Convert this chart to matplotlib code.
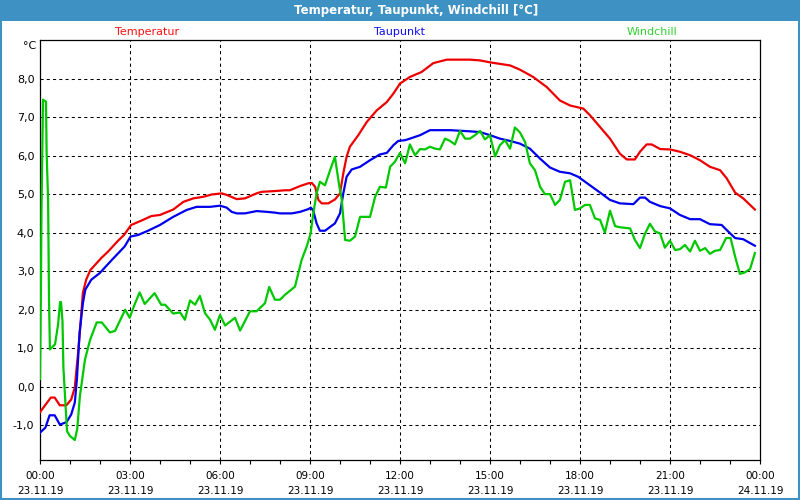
import matplotlib
matplotlib.use('Agg')
import matplotlib.pyplot as plt
from matplotlib.patches import Rectangle
from matplotlib.ticker import MultipleLocator

# hours since 23.11.19 00:00
temp_t = [0.0, 0.36, 0.49, 0.66, 0.88, 1.04, 1.16, 1.27, 1.36, 1.43, 1.54, 1.68, 2.04, 2.27,
          2.6, 2.8, 3.04, 3.43, 3.71, 4.0, 4.44, 4.78, 5.11, 5.44, 5.72, 6.06, 6.22, 6.56,
          6.83, 7.22, 7.39, 7.83, 8.17, 8.33, 8.67, 8.94, 9.06, 9.17, 9.28, 9.39, 9.61, 9.83,
          10.0, 10.11, 10.22, 10.33, 10.61, 10.89, 11.22, 11.56, 11.78, 12.0, 12.33, 12.72,
          13.11, 13.56, 14.33, 14.67, 15.0, 15.33, 15.67, 16.0, 16.44, 16.89, 17.33, 17.67,
          18.11, 18.33, 18.67, 19.0, 19.33, 19.56, 19.83, 20.0, 20.22, 20.39, 20.67, 21.0,
          21.33, 21.67, 22.0, 22.33, 22.67, 22.89, 23.17, 23.44, 23.83]
temp_v = [-0.66, -0.28, -0.28, -0.48, -0.48, -0.33, -0.02, 0.89, 1.74, 2.44, 2.78, 3.03, 3.34,
          3.51, 3.79, 3.94, 4.2, 4.33, 4.43, 4.46, 4.6, 4.8, 4.89, 4.93, 4.99, 5.02, 4.98, 4.87,
          4.89, 5.02, 5.06, 5.08, 5.1, 5.1, 5.21, 5.28, 5.29, 5.19, 4.85, 4.76, 4.76, 4.86,
          5.02, 5.54, 5.97, 6.23, 6.53, 6.87, 7.17, 7.39, 7.61, 7.87, 8.04, 8.17, 8.4, 8.49,
          8.49, 8.47, 8.42, 8.38, 8.34, 8.23, 8.04, 7.78, 7.43, 7.3, 7.22, 7.05, 6.74, 6.44,
          6.05, 5.9, 5.9, 6.1, 6.29, 6.29, 6.17, 6.16, 6.1, 6.01, 5.88, 5.71, 5.62, 5.41, 5.04,
          4.89, 4.6]

dew_t = [0.0, 0.18, 0.32, 0.49, 0.66, 0.88, 1.04, 1.16, 1.23, 1.32, 1.43, 1.51, 1.71, 1.99,
         2.38, 2.82, 3.02, 3.27, 3.6, 4.0, 4.44, 4.89, 5.22, 5.67, 6.0, 6.22, 6.39, 6.56, 6.83,
         7.22, 7.56, 7.83, 8.0, 8.39, 8.67, 8.94, 9.03, 9.11, 9.22, 9.33, 9.5, 9.83, 10.0,
         10.11, 10.22, 10.39, 10.67, 11.0, 11.33, 11.56, 11.78, 11.94, 12.17, 12.33, 12.67,
         13.0, 13.33, 13.67, 14.33, 14.67, 15.0, 15.33, 15.67, 16.0, 16.33, 16.67, 17.0,
         17.33, 17.67, 17.94, 18.33, 18.67, 19.0, 19.33, 19.78, 20.0, 20.17, 20.33, 20.67,
         21.0, 21.33, 21.67, 22.0, 22.33, 22.72, 22.94, 23.17, 23.44, 23.83]
dew_v = [-1.19, -1.06, -0.74, -0.74, -0.98, -0.92, -0.72, -0.41, 0.19, 1.4, 2.17, 2.52, 2.78,
         2.95, 3.28, 3.64, 3.9, 3.94, 4.05, 4.2, 4.41, 4.59, 4.67, 4.67, 4.7, 4.65, 4.54, 4.5,
         4.5, 4.56, 4.54, 4.52, 4.5, 4.5, 4.54, 4.61, 4.65, 4.57, 4.24, 4.05, 4.05, 4.24, 4.5,
         5.02, 5.45, 5.64, 5.71, 5.88, 6.03, 6.07, 6.27, 6.38, 6.4, 6.44, 6.53, 6.66, 6.66,
         6.66, 6.63, 6.61, 6.53, 6.44, 6.38, 6.31, 6.18, 5.92, 5.69, 5.58, 5.54, 5.45, 5.23,
         5.04, 4.85, 4.76, 4.74, 4.91, 4.91, 4.8, 4.69, 4.63, 4.46, 4.35, 4.35, 4.22, 4.2,
         4.03, 3.86, 3.83, 3.66]

chill_t = [0.0, 0.03, 0.05, 0.1, 0.2, 0.22, 0.27, 0.3, 0.33, 0.5, 0.6, 0.67, 0.7, 0.75, 0.78,
           0.9, 1.0, 1.16, 1.24, 1.33, 1.5, 1.67, 1.89, 2.06, 2.33, 2.5, 2.84, 2.99, 3.13,
           3.32, 3.49, 3.82, 4.04, 4.17, 4.44, 4.67, 4.83, 5.0, 5.17, 5.33, 5.5, 5.67, 5.83,
           6.0, 6.17, 6.5, 6.67, 7.0, 7.22, 7.5, 7.64, 7.83, 8.0, 8.17, 8.5, 8.72, 8.89, 9.02,
           9.11, 9.22, 9.33, 9.5, 9.67, 9.83, 9.98, 10.06, 10.17, 10.33, 10.5, 10.67, 11.0,
           11.17, 11.33, 11.53, 11.67, 11.83, 12.0, 12.17, 12.33, 12.5, 12.67, 12.83, 13.0,
           13.17, 13.33, 13.5, 13.67, 13.83, 14.0, 14.17, 14.33, 14.5, 14.67, 14.83, 15.0,
           15.17, 15.33, 15.5, 15.67, 15.83, 16.0, 16.17, 16.33, 16.5, 16.67, 16.83, 17.0,
           17.17, 17.33, 17.5, 17.67, 17.83, 18.0, 18.17, 18.33, 18.5, 18.67, 18.83, 19.0,
           19.17, 19.33, 19.67, 19.83, 20.0, 20.17, 20.33, 20.5, 20.67, 20.83, 21.0, 21.17,
           21.33, 21.5, 21.67, 21.83, 22.0, 22.17, 22.33, 22.5, 22.67, 22.87, 23.02, 23.17,
           23.33, 23.5, 23.67, 23.83]
chill_v = [0.2, 2.5, 4.6, 7.45, 7.4, 6.1, 4.85, 2.3, 0.97, 1.1, 1.6, 2.2, 2.2, 1.7, 0.5, -1.15,
           -1.28, -1.38, -1.1, -0.24, 0.71, 1.22, 1.67, 1.67, 1.41, 1.45, 2.0, 1.79, 2.09,
           2.45, 2.15, 2.43, 2.13, 2.13, 1.9, 1.93, 1.74, 2.24, 2.13, 2.36, 1.91, 1.74, 1.48,
           1.87, 1.59, 1.79, 1.46, 1.96, 1.96, 2.17, 2.59, 2.26, 2.26, 2.39, 2.6, 3.29, 3.64,
           3.98, 4.5, 5.02, 5.32, 5.23, 5.62, 5.97, 5.19, 4.85, 3.81, 3.79, 3.9, 4.41, 4.41,
           4.93, 5.19, 5.17, 5.71, 5.84, 6.07, 5.8, 6.29, 6.01, 6.17, 6.16, 6.23, 6.18, 6.16,
           6.44, 6.38, 6.29, 6.64, 6.44, 6.44, 6.53, 6.64, 6.42, 6.53, 5.98, 6.27, 6.4, 6.18,
           6.73, 6.6, 6.35, 5.8, 5.62, 5.19, 5.0, 5.0, 4.72, 4.85, 5.32, 5.36, 4.59, 4.63,
           4.72, 4.72, 4.37, 4.33, 4.0, 4.57, 4.17, 4.14, 4.11, 3.81, 3.6, 3.98, 4.23, 4.03,
           3.98, 3.61, 3.79, 3.55, 3.57, 3.68, 3.51, 3.79, 3.53, 3.6, 3.45, 3.53, 3.55, 3.86,
           3.86, 3.38, 2.93, 2.97, 3.06, 3.47]

x_ticks = [0, 3, 6, 9, 12, 15, 18, 21, 24]
x_labels = ['00:00\n23.11.19', '03:00\n23.11.19', '06:00\n23.11.19', '09:00\n23.11.19',
            '12:00\n23.11.19', '15:00\n23.11.19', '18:00\n23.11.19', '21:00\n23.11.19',
            '00:00\n24.11.19']
y_ticks = [-1, 0, 1, 2, 3, 4, 5, 6, 7, 8]

bar_blue = '#3d91c3'
plt.rcParams['font.family'] = ['DejaVu Sans']

fig = plt.figure(figsize=(8, 5), dpi=100, facecolor='white')
ax = fig.add_axes([40 / 800, 40 / 500, 720 / 800, 420 / 500])

ax.plot(temp_t, temp_v, color='#ee0000', lw=1.6, zorder=3)
ax.plot(dew_t, dew_v, color='#0000ee', lw=1.6, zorder=3)
ax.plot(chill_t, chill_v, color='#00c800', lw=1.6, zorder=4)

ax.set_xlim(0, 24)
ax.set_ylim(-1.9, 9.0)
ax.set_xticks(x_ticks)
ax.set_xticklabels(x_labels, fontsize=7.5, linespacing=1.6)
ax.xaxis.set_minor_locator(MultipleLocator(1))
ax.tick_params(axis='x', which='both', direction='out', length=3, width=0.8, pad=5)
ax.set_yticks(y_ticks)
ax.set_yticklabels([f'{v:.1f}'.replace('.', ',') for v in y_ticks], fontsize=8)
ax.tick_params(axis='y', length=0, pad=4)

for v in y_ticks:
    ax.axhline(v, color='black', lw=0.75, ls=(0, (3, 3)), zorder=1)
for h in x_ticks[1:-1]:
    ax.axvline(h, color='black', lw=0.75, ls=(0, (3, 3)), zorder=1)
for s in ax.spines.values():
    s.set_linewidth(0.9)

# header bar and frame
fig.patches.append(Rectangle((0, 479 / 500), 1, 21 / 500, transform=fig.transFigure,
                             facecolor=bar_blue, edgecolor='none', zorder=0))
fig.patches.append(Rectangle((0.001, 0.002), 0.998, 0.996, transform=fig.transFigure,
                             facecolor='none', edgecolor=bar_blue, lw=1.5, zorder=5))
fig.text(416 / 800, 1 - 10.5 / 500, 'Temperatur, Taupunkt, Windchill [°C]', color='white',
         fontsize=8.5, fontweight='bold', ha='center', va='center')

fig.text(147 / 800, 1 - 32 / 500, 'Temperatur', color='#ff1010', fontsize=8, ha='center', va='center')
fig.text(399 / 800, 1 - 32 / 500, 'Taupunkt', color='#1010ee', fontsize=8, ha='center', va='center')
fig.text(652 / 800, 1 - 32 / 500, 'Windchill', color='#30d030', fontsize=8, ha='center', va='center')
fig.text(36 / 800, 1 - 46 / 500, '°C', color='black', fontsize=8, ha='right', va='center')

fig.savefig('out.png', dpi=100, facecolor='white')
